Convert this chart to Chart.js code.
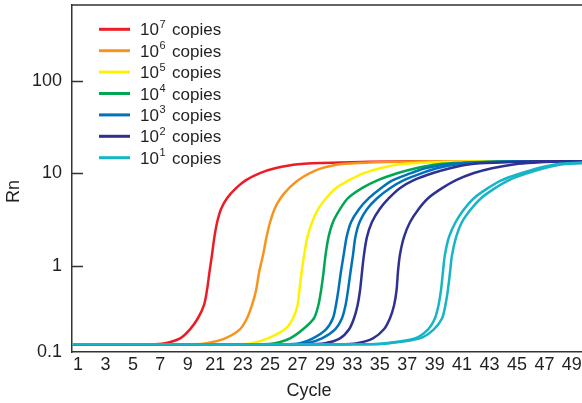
<!DOCTYPE html>
<html>
<head>
<meta charset="utf-8">
<title>Amplification plot</title>
<script src="https://cdn.jsdelivr.net/npm/chart.js@4/dist/chart.umd.min.js"></script>
<style>
  html, body { margin: 0; padding: 0; background: #fff; }
  #wrap { width: 582px; height: 403px; }
</style>
</head>
<body>
<div id="wrap"><canvas id="myChart" width="582" height="403"></canvas></div>
<script>
/*---- values ----*/
// x positions are slot numbers (0 = first tick label "1"), y values are Rn
var cycleLabels = ['1', '3', '5', '7', '9', '21', '23', '25', '27', '29', '33', '35', '37', '39', '41', '43', '45', '47', '49'];
var yTickLabels = ['0.1', '1', '10', '100'];
var yTickValues = [0.119, 1, 10, 100];
var copyExponents = ['7', '6', '5', '4', '3', '2', '1'];

var curve7 = [[-0.22,0.144],[2.62,0.144],[3.17,0.148],[3.72,0.167],[4.08,0.209],[4.37,0.275],[4.59,0.380],[4.70,0.551],[4.79,0.862],[4.88,1.31],[4.97,2.06],[5.07,2.98],[5.21,4.12],[5.43,5.41],[5.76,6.94],[6.12,8.47],[6.63,10.1],[7.18,11.4],[8.02,12.6],[9.55,13.1],[12.10,13.5],[18.37,13.5]];
var curve6 = [[-0.22,0.144],[4.26,0.144],[4.70,0.148],[5.36,0.167],[5.90,0.209],[6.16,0.275],[6.34,0.380],[6.49,0.551],[6.60,0.862],[6.74,1.31],[6.87,2.06],[7.00,2.98],[7.16,4.12],[7.38,5.41],[7.69,6.94],[8.02,8.47],[8.45,10.1],[8.89,11.4],[9.55,12.6],[10.64,13.1],[12.83,13.5],[18.37,13.5]];
var curve5 = [[-0.22,0.144],[5.90,0.144],[6.34,0.148],[6.92,0.167],[7.54,0.209],[7.84,0.275],[8.00,0.380],[8.07,0.551],[8.15,0.862],[8.24,1.31],[8.36,2.06],[8.53,2.98],[8.75,4.12],[9.04,5.41],[9.40,6.94],[9.88,8.47],[10.42,10.1],[11.01,11.4],[11.73,12.6],[12.83,13.1],[14.65,13.5],[18.37,13.5]];
var curve4 = [[-0.22,0.144],[6.71,0.144],[7.18,0.148],[7.73,0.167],[8.20,0.209],[8.60,0.275],[8.76,0.380],[8.86,0.551],[8.95,0.862],[9.02,1.31],[9.13,2.06],[9.29,2.98],[9.55,4.12],[9.84,5.41],[10.35,6.94],[10.93,8.47],[11.66,10.1],[12.32,11.4],[13.12,12.6],[14.10,13.1],[15.74,13.5],[18.37,13.5]];
var curve3a = [[-0.22,0.144],[7.54,0.144],[8.09,0.148],[8.56,0.167],[9.04,0.209],[9.29,0.275],[9.40,0.380],[9.49,0.551],[9.58,0.862],[9.68,1.31],[9.79,2.06],[9.95,2.98],[10.24,4.12],[10.60,5.41],[11.04,6.94],[11.48,8.47],[12.14,10.1],[12.65,11.4],[13.48,12.6],[14.47,13.1],[16.11,13.5],[18.37,13.5]];
var curve3b = [[-0.22,0.144],[7.73,0.144],[8.35,0.148],[8.89,0.167],[9.37,0.209],[9.62,0.275],[9.75,0.380],[9.84,0.551],[9.93,0.862],[10.02,1.31],[10.11,2.06],[10.26,2.98],[10.53,4.12],[10.90,5.41],[11.37,6.94],[11.88,8.47],[12.54,10.1],[13.08,11.4],[13.85,12.6],[14.83,13.1],[16.47,13.5],[18.37,13.5]];
var curve2a = [[-0.22,0.144],[8.27,0.144],[9.00,0.148],[9.55,0.167],[9.88,0.209],[10.06,0.275],[10.19,0.380],[10.28,0.551],[10.35,0.862],[10.42,1.31],[10.53,2.06],[10.71,2.98],[10.99,4.12],[11.33,5.41],[11.73,6.94],[12.24,8.47],[12.94,10.1],[13.56,11.4],[14.29,12.6],[15.38,13.1],[16.84,13.5],[18.37,13.5]];
var curve2b = [[-0.22,0.144],[9.55,0.144],[10.17,0.148],[10.75,0.167],[11.15,0.209],[11.37,0.275],[11.52,0.380],[11.61,0.551],[11.66,0.862],[11.73,1.31],[11.88,2.06],[12.10,2.98],[12.41,4.12],[12.76,5.41],[13.27,6.94],[13.78,8.47],[14.43,10.1],[15.09,11.4],[15.93,12.6],[16.73,13.1],[17.75,13.5],[18.37,13.5]];
var curve1a = [[-0.22,0.144],[10.64,0.144],[11.19,0.148],[12.28,0.167],[12.76,0.209],[13.01,0.275],[13.14,0.380],[13.23,0.551],[13.30,0.862],[13.37,1.31],[13.52,2.06],[13.76,2.98],[14.07,4.12],[14.43,5.41],[14.94,6.94],[15.45,8.47],[16.18,10.1],[16.76,11.4],[17.46,12.6],[18.37,13.1]];
var curve1b = [[-0.22,0.144],[10.71,0.144],[11.37,0.148],[12.46,0.167],[12.97,0.209],[13.27,0.275],[13.39,0.380],[13.48,0.551],[13.56,0.862],[13.63,1.31],[13.78,2.06],[13.99,2.98],[14.32,4.12],[14.69,5.41],[15.20,6.94],[15.71,8.47],[16.40,10.1],[16.98,11.4],[17.67,12.6],[18.37,12.9]];
/*---- end of data ----*/

var seriesColors = ['#ed1c24', '#f7941d', '#fff200', '#00a651', '#0072bc', '#2e3192', '#17b4c6'];
var axisColor = '#333333';
var textColor = '#231f20';
var fontName = '"Liberation Sans", Arial, Helvetica, sans-serif';

// which legend entry each replicate curve belongs to
var curveList = [curve7, curve6, curve5, curve4, curve3a, curve3b, curve2a, curve2b, curve1a, curve1b];
var curveGroup = [0, 1, 2, 3, 4, 4, 5, 5, 6, 6];

/*---- build the datasets ----*/
function buildDatasets() {
	var sets = [];
	for (var i = 0; i < curveList.length; i++) {
		var g = curveGroup[i];
		sets.push({
			label: '10^' + copyExponents[g] + ' copies',
			data: curveList[i].map(function (p) { return { x: p[0], y: p[1] }; }),
			borderColor: seriesColors[g],
			borderWidth: 2.5,
			pointRadius: 0,
			fill: false,
			tension: 0.3,
			order: curveList.length - i
		});
	}
	return sets;
}

/*---- frame, inward ticks, legend and axis titles ----*/
var extrasPlugin = {
	id: 'extras',
	afterDraw: function (chart) {
		var ctx = chart.ctx;
		var area = chart.chartArea;
		var ys = chart.scales.y;
		ctx.save();

		ctx.strokeStyle = axisColor;
		ctx.lineWidth = 1.5;
		ctx.beginPath();
		ctx.moveTo(area.left, area.top);
		ctx.lineTo(area.right, area.top);
		for (var i = 1; i < yTickValues.length; i++) {
			var py = Math.round(ys.getPixelForValue(yTickValues[i])) + 0.5;
			ctx.moveTo(area.left, py);
			ctx.lineTo(area.left + 11, py);
		}
		ctx.stroke();

		// legend: one row per copy number
		for (var k = 0; k < copyExponents.length; k++) {
			var rowY = 29.3 + k * 21.4;
			ctx.strokeStyle = seriesColors[k];
			ctx.lineWidth = 3;
			ctx.beginPath();
			ctx.moveTo(99, rowY);
			ctx.lineTo(130, rowY);
			ctx.stroke();

			var base = rowY + 6;
			ctx.fillStyle = textColor;
			ctx.textBaseline = 'alphabetic';
			ctx.textAlign = 'left';
			ctx.font = '17px ' + fontName;
			ctx.fillText('10', 140, base);
			var w = ctx.measureText('10').width;
			ctx.font = '11px ' + fontName;
			ctx.fillText(copyExponents[k], 140 + w + 0.5, base - 7.5);
			ctx.font = '17px ' + fontName;
			ctx.fillText('copies', 172, base);
		}

		// axis titles
		ctx.fillStyle = textColor;
		ctx.font = '18px ' + fontName;
		ctx.textAlign = 'center';
		ctx.textBaseline = 'middle';
		ctx.fillText('Cycle', 309, 391);
		ctx.translate(14.5, 191.5);
		ctx.rotate(-Math.PI / 2);
		ctx.fillText('Rn', 0, 0);

		ctx.restore();
	}
};

/*---- draw the chart ----*/
function drawChart() {
	var ctx = document.getElementById('myChart').getContext('2d');
	var tickFont = { family: fontName, size: 18 };
	new Chart(ctx, {
		type: 'line',
		data: { datasets: buildDatasets() },
		options: {
			responsive: false,
			animation: false,
			devicePixelRatio: 1,
			layout: { padding: { top: 5, right: 0, left: 0, bottom: 0 } },
			plugins: { legend: { display: false }, tooltip: { enabled: false } },
			scales: {
				x: {
					type: 'linear',
					min: -0.22,
					max: 18.37,
					afterBuildTicks: function (s) {
						s.ticks = cycleLabels.map(function (l, i) { return { value: i }; });
					},
					afterFit: function (s) {
						s.height = 51;
						s.paddingLeft = 0;
						s.paddingRight = 0;
					},
					ticks: {
						autoSkip: false,
						maxRotation: 0,
						padding: 2,
						color: textColor,
						font: tickFont,
						callback: function (v, i) { return cycleLabels[i]; }
					},
					grid: { display: false, drawTicks: false },
					border: { color: axisColor, width: 1.5 }
				},
				y: {
					type: 'logarithmic',
					min: 0.119,
					max: 654,
					afterBuildTicks: function (s) {
						s.ticks = yTickValues.map(function (v) { return { value: v }; });
					},
					afterFit: function (s) {
						s.width = 72;
						s.paddingTop = 0;
						s.paddingBottom = 0;
					},
					ticks: {
						padding: 10,
						color: textColor,
						font: tickFont,
						callback: function (v, i) { return yTickLabels[i]; }
					},
					grid: { display: false, drawTicks: false },
					border: { color: axisColor, width: 1.5 }
				}
			}
		},
		plugins: [extrasPlugin]
	});
}

drawChart();
</script>
</body>
</html>
